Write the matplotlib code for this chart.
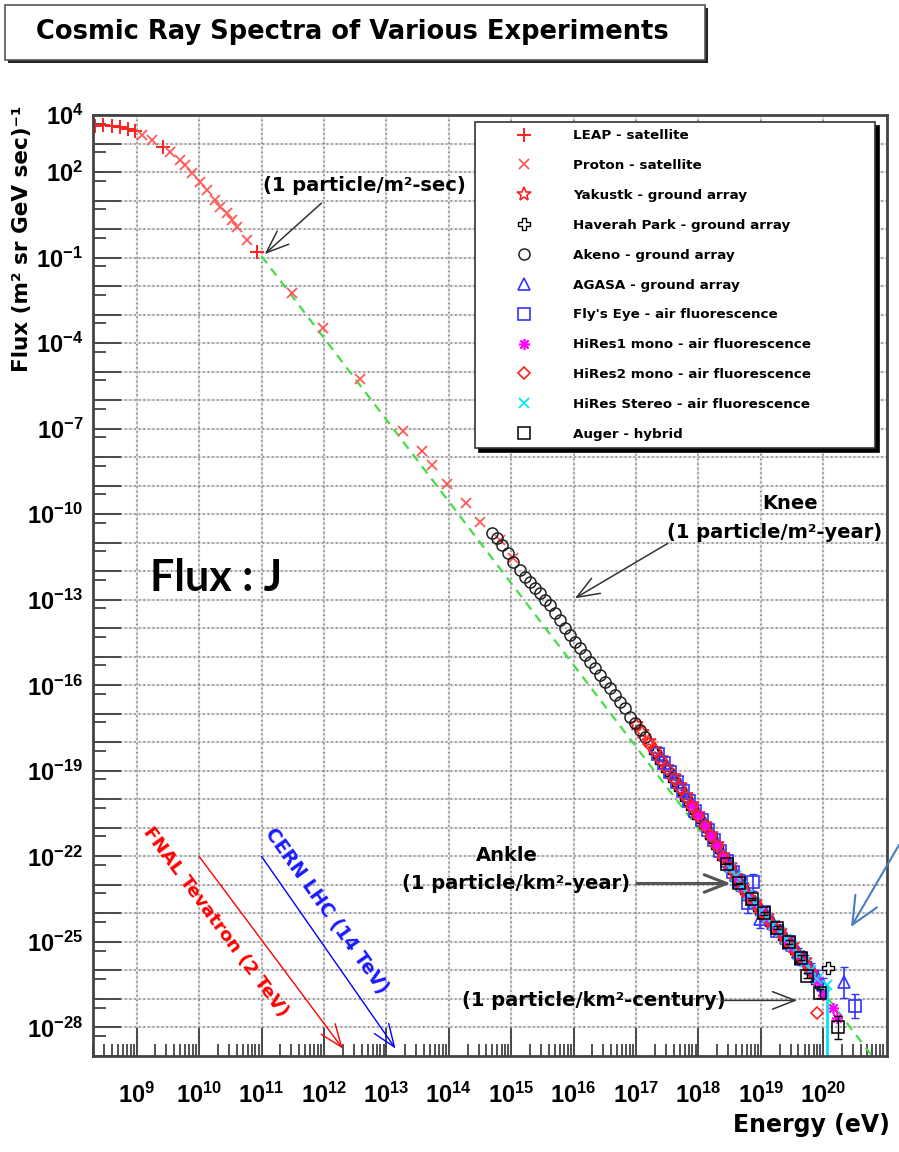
import numpy as np
import matplotlib.pyplot as plt
from matplotlib.patches import Rectangle
from matplotlib.ticker import FixedLocator, NullFormatter

plt.rcParams.update({'font.family': 'DejaVu Sans',
                     'font.weight': 'bold',
                     'mathtext.fontset': 'custom',
                     'mathtext.rm': 'Liberation Sans:bold',
                     'mathtext.it': 'Liberation Sans:bold',
                     'mathtext.bf': 'Liberation Sans:bold',
                     })

# all values are log10(E / eV) and log10(J / (m^2 sr GeV sec)^-1)
leap_logE = [8.33, 8.46, 8.60, 8.73, 8.86, 8.97, 9.42, 10.92]
leap_logJ = [3.61, 3.65, 3.61, 3.58, 3.51, 3.44, 2.88, -0.81]

proton_logE = [9.08, 9.24, 9.53, 9.69, 9.77, 9.88, 10.01, 10.12, 10.25, 10.33, 10.44, 10.52,
               10.60, 10.76, 11.48, 11.98, 12.57, 13.26, 13.57, 13.73, 13.97, 14.27, 14.50,
               14.82, 15.03]
proton_logJ = [3.30, 3.12, 2.70, 2.42, 2.25, 1.96, 1.65, 1.37, 1.02, 0.77, 0.56, 0.32,
               0.07, -0.39, -2.25, -3.47, -5.26, -7.09, -7.79, -8.28, -8.95, -9.61, -10.28,
               -10.91, -11.54]

yakutsk_logE = [17.0, 17.1, 17.2, 17.3, 17.4, 17.5, 17.6, 17.7, 17.8, 17.9, 18.0, 18.1, 18.2,
                18.3, 18.4, 18.5, 18.6, 18.7, 18.8, 18.9, 19.0, 19.1, 19.2, 19.3, 19.4, 19.5,
                19.6, 19.7]
yakutsk_logJ = [-17.35, -17.65, -17.95, -18.22, -18.55, -18.85, -19.18, -19.5, -19.85, -20.15,
                -20.5, -20.85, -21.2, -21.55, -21.95, -22.3, -22.7, -23.0, -23.3, -23.6, -23.85,
                -24.1, -24.35, -24.6, -24.9, -25.12, -25.4, -25.65]

haverah_logE = [17.3, 17.4, 17.5, 17.6, 17.7, 17.8, 17.9, 18.0, 18.1, 18.2, 18.3, 18.4, 18.5,
                18.6, 18.7, 18.8, 18.9, 19.0, 19.1, 19.2, 19.3, 19.4, 19.5, 19.6, 19.7, 19.8,
                19.9, 20.07]
haverah_logJ = [-18.35, -18.68, -18.97, -19.32, -19.62, -19.97, -20.3, -20.62, -20.95, -21.32,
                -21.68, -22.05, -22.42, -22.8, -23.12, -23.45, -23.7, -23.98, -24.22, -24.48,
                -24.72, -24.98, -25.22, -25.5, -25.75, -26.05, -26.42, -25.93]

akeno_logE = [14.69, 14.77, 14.85, 14.95, 15.03, 15.14, 15.22, 15.30, 15.38, 15.46, 15.54,
              15.62, 15.70, 15.78, 15.86, 15.94, 16.02, 16.10, 16.18, 16.26, 16.34, 16.42,
              16.50, 16.58, 16.66, 16.74, 16.82, 16.90, 16.98, 17.06, 17.14]
akeno_logJ = [-10.67, -10.84, -11.09, -11.37, -11.68, -11.96, -12.21, -12.39, -12.60, -12.77,
              -13.02, -13.19, -13.47, -13.72, -14.00, -14.25, -14.49, -14.70, -14.95, -15.19,
              -15.40, -15.65, -15.89, -16.11, -16.35, -16.60, -16.81, -17.12, -17.33, -17.58,
              -17.82]

agasa_logE = [18.5, 18.6, 18.7, 18.8, 18.9, 18.98, 19.1, 19.2, 19.3, 19.4, 19.5, 19.6, 19.7,
              19.8, 19.9, 20.0, 20.33]
agasa_logJ = [-22.3, -22.65, -23.0, -23.3, -23.6, -24.2, -24.1, -24.35, -24.6, -24.85, -25.1,
              -25.35, -25.6, -25.9, -26.2, -26.5, -26.42]
agasa_dex = [0.04, 0.04, 0.05, 0.05, 0.06, 0.3, 0.07, 0.08, 0.09, 0.1, 0.11, 0.12, 0.14,
             0.16, 0.2, 0.25, 0.55]

flyseye_logE = [17.35, 17.45, 17.55, 17.65, 17.75, 17.85, 17.95, 18.05, 18.15, 18.25, 18.35,
                18.45, 18.55, 18.65, 18.79, 18.87, 19.05, 19.25, 19.45, 19.65, 20.5]
flyseye_logJ = [-18.42, -18.72, -19.05, -19.38, -19.72, -20.05, -20.4, -20.72, -21.08, -21.42,
                -21.8, -22.15, -22.55, -22.88, -23.65, -22.9, -23.95, -24.6, -25.05, -25.6,
                -27.23]
flyseye_dex = [0.04, 0.05, 0.05, 0.05, 0.05, 0.05, 0.06, 0.06, 0.06, 0.06, 0.07, 0.07, 0.08,
               0.08, 0.35, 0.3, 0.1, 0.12, 0.15, 0.2, 0.42]

hires1_logE = [17.9, 18.0, 18.1, 18.2, 18.3, 18.4, 18.5, 18.6, 18.7, 18.8, 18.9, 19.0, 19.1,
               19.2, 19.3, 19.4, 19.5, 19.6, 19.7, 19.8, 19.9, 20.0, 20.15, 20.22]
hires1_logJ = [-20.2, -20.55, -20.92, -21.27, -21.6, -22.02, -22.35, -22.75, -23.1, -23.4,
               -23.65, -23.95, -24.2, -24.45, -24.7, -24.95, -25.2, -25.45, -25.72, -26.02,
               -26.38, -26.85, -27.3, -27.65]

hires2_logE = [17.2, 17.3, 17.4, 17.5, 17.6, 17.7, 17.8, 17.9, 18.0, 18.1, 18.2, 18.3, 18.4,
               18.5, 18.6, 18.7, 18.8, 18.9, 19.0, 19.1, 19.2, 19.3, 19.4, 19.5, 19.6, 19.7,
               19.8, 19.9]
hires2_logJ = [-18.05, -18.32, -18.63, -18.95, -19.28, -19.6, -19.92, -20.27, -20.6, -20.93,
               -21.28, -21.65, -22.03, -22.4, -22.77, -23.1, -23.4, -23.68, -23.95, -24.2,
               -24.45, -24.7, -24.95, -25.2, -25.47, -25.75, -26.05, -27.5]

stereo_logE = [18.5, 18.6, 18.7, 18.8, 18.9, 19.0, 19.1, 19.2, 19.3, 19.4, 19.5, 19.6, 19.7,
               19.8, 19.9, 20.06]
stereo_logJ = [-22.4, -22.7, -23.05, -23.35, -23.62, -23.9, -24.15, -24.4, -24.65, -24.9,
               -25.15, -25.45, -25.72, -26.0, -26.3, -26.5]

auger_logE = [18.45, 18.65, 18.85, 19.05, 19.25, 19.45, 19.65, 19.74, 19.95, 20.23]
auger_logJ = [-22.25, -22.95, -23.5, -24.0, -24.5, -25.0, -25.55, -26.18, -26.8, -28.0]
auger_dex = [0.03, 0.03, 0.04, 0.04, 0.05, 0.06, 0.08, 0.1, 0.15, 0.4]

# reference power law drawn through the low energy data
ref_logE = [11.0, 20.78]
ref_logJ = [-0.95, -29.0]

x_label_exps = list(range(9, 21))
y_label_exps = [4, 2, -1, -4, -7, -10, -13, -16, -19, -22, -25, -28]

RED = '#ff2020'
BLUE = '#3333ff'


def tev(v):
    return np.power(10.0, v)


def log_err(logJ, dex):
    j = tev(np.array(logJ))
    d = np.array(dex)
    return [j - j * 10 ** (-d), j * 10 ** d - j]


fig = plt.figure(figsize=(8.99, 11.52), dpi=100)
ax = fig.add_axes([93 / 899, 96 / 1152, 794 / 899, 941 / 1152])
ax.set_xscale('log')
ax.set_yscale('log')
ax.set_xlim(10 ** 8.3, 10 ** 21.02)
ax.set_ylim(1e-29, 1e4)

ax.plot(tev(ref_logE), tev(ref_logJ), color='#44dd44', lw=1.6, ls=(0, (4, 3)), zorder=2)

h = []
h += ax.plot(tev(leap_logE), tev(leap_logJ), '+', color=RED, ms=10, mew=1.4,
             label='LEAP - satellite')
h += ax.plot(tev(proton_logE), tev(proton_logJ), 'x', color='#ff5a5a', ms=7, mew=1.3,
             label='Proton - satellite')
h += ax.plot(tev(yakutsk_logE), tev(yakutsk_logJ), '*', color=RED, mfc='none', ms=10, mew=1.2,
             label='Yakustk - ground array')
h += ax.plot(tev(haverah_logE), tev(haverah_logJ), 'P', color='black', mfc='none', ms=9, mew=1.0,
             label='Haverah Park - ground array')
h += ax.plot(tev(akeno_logE), tev(akeno_logJ), 'o', color='#222222', mfc='none', ms=8, mew=1.1,
             label='Akeno - ground array')
ax.errorbar(tev(agasa_logE), tev(agasa_logJ), yerr=log_err(agasa_logJ, agasa_dex), fmt='none',
            ecolor=BLUE, elinewidth=1.2, capsize=3)
h += ax.plot(tev(agasa_logE), tev(agasa_logJ), '^', color=BLUE, mfc='none', ms=8, mew=1.2,
             label='AGASA - ground array')
ax.errorbar(tev(flyseye_logE), tev(flyseye_logJ), yerr=log_err(flyseye_logJ, flyseye_dex),
            fmt='none', ecolor=BLUE, elinewidth=1.2, capsize=3)
h += ax.plot(tev(flyseye_logE), tev(flyseye_logJ), 's', color=BLUE, mfc='none', ms=8, mew=1.2,
             label="Fly's Eye - air fluorescence")
h += ax.plot(tev(hires1_logE), tev(hires1_logJ), marker=(8, 2, 0), ls='none', color='#ff00ff',
             ms=8, mew=1.2, label='HiRes1 mono - air fluorescence')
h += ax.plot(tev(hires2_logE), tev(hires2_logJ), 'D', color=RED, mfc='none', ms=6, mew=1.2,
             label='HiRes2 mono - air fluorescence')
ax.errorbar(tev(stereo_logE[-1:]), tev(stereo_logJ[-1:]),
            yerr=[[tev(stereo_logJ[-1]) * 0.999999], [0.0]], fmt='none', ecolor='#00e5ff',
            elinewidth=2.0)
h += ax.plot(tev(stereo_logE), tev(stereo_logJ), 'x', color='#00e5ff', ms=7, mew=1.3,
             label='HiRes Stereo - air fluorescence')
ax.errorbar(tev(auger_logE), tev(auger_logJ), yerr=log_err(auger_logJ, auger_dex), fmt='none',
            ecolor='black', elinewidth=1.0, capsize=3)
h += ax.plot(tev(auger_logE), tev(auger_logJ), 's', color='black', mfc='none', ms=8, mew=1.1,
             label='Auger - hybrid')

# axes, ticks and grid in the ROOT look
ax.set_xticks(tev(x_label_exps))
ax.set_xticklabels([f'$10^{{{k}}}$' for k in x_label_exps])
ax.xaxis.set_minor_locator(FixedLocator([m * 10.0 ** k for k in range(8, 21) for m in range(2, 10)]))
ax.xaxis.set_minor_formatter(NullFormatter())
y_major = list(range(-29, 5))
ax.set_yticks(tev(y_major))
ax.set_yticklabels([f'$10^{{{k}}}$' if k in y_label_exps else '' for k in y_major])
ax.yaxis.set_minor_locator(FixedLocator([5 * 10.0 ** k for k in range(-29, 4)]))
ax.yaxis.set_minor_formatter(NullFormatter())
ax.tick_params(which='both', direction='in', color='#333333', width=1.2)
ax.tick_params(which='major', length=20, labelsize=17)
ax.tick_params(which='minor', length=9)
ax.tick_params(axis='x', which='major', pad=19)
ax.tick_params(axis='y', which='major', pad=7)
for s in ax.spines.values():
    s.set_linewidth(2.0)
    s.set_color('#444444')

ax.set_axisbelow(True)
for k in range(9, 21):
    ax.axvline(10.0 ** k, color='#e2e2e2', lw=1.6, zorder=0)
for k in range(-28, 4):
    ax.axhline(10.0 ** k, color='#e2e2e2', lw=1.6, zorder=0)
ax.grid(True, which='major', color='#808080', ls=(0, (1, 2)), lw=1.1)

# labelled features of the spectrum
arrow_kw = dict(arrowstyle='->,head_length=0.9,head_width=0.35', color='#333333', lw=1.1,
                mutation_scale=18, shrinkA=0, shrinkB=0)
note = dict(fontsize=14, ha='center', va='center')
ax.text(tev(12.65), tev(1.54), '(1 particle/m²-sec)', **note)
ax.annotate('', xy=(tev(11.05), tev(-0.88)), xytext=(tev(11.96), tev(0.91)), arrowprops=arrow_kw)

ax.text(tev(19.46), tev(-9.61), 'Knee', **note)
ax.text(tev(19.22), tev(-10.63), '(1 particle/m²-year)', **note)
ax.annotate('', xy=(tev(16.02), tev(-12.95)), xytext=(tev(17.51), tev(-11.02)), arrowprops=arrow_kw)

ax.text(tev(14.93), tev(-21.96), 'Ankle', **note)
ax.text(tev(15.07), tev(-22.95), '(1 particle/km²-year)', **note)
ax.annotate('', xy=(tev(18.52), tev(-22.95)), xytext=(tev(17.01), tev(-22.95)),
            arrowprops=dict(arrow_kw, color='#555555', lw=2.2))

ax.text(tev(16.33), tev(-27.05), '(1 particle/km²-century)', **note)
ax.annotate('', xy=(tev(19.58), tev(-27.05)), xytext=(tev(18.36), tev(-27.05)), arrowprops=arrow_kw)

# accelerator energies
ax.annotate('', xy=(2e12, tev(-28.74)), xytext=(1e10, 1e-22),
            arrowprops=dict(arrowstyle='->,head_length=0.9,head_width=0.35', color='red', lw=1.0,
                            mutation_scale=18, shrinkA=0, shrinkB=0))
ax.text(tev(10.27), tev(-24.3), 'FNAL Tevatron (2 TeV)', color='red', fontsize=13.3,
        rotation=-53.5, ha='center', va='center', rotation_mode='anchor')
ax.annotate('', xy=(1.4e13, tev(-28.74)), xytext=(1e11, 1e-22),
            arrowprops=dict(arrowstyle='->,head_length=0.9,head_width=0.35', color='blue', lw=1.0,
                            mutation_scale=18, shrinkA=0, shrinkB=0))
ax.text(tev(12.04), tev(-23.9), 'CERN LHC (14 TeV)', color='#1a1aff', fontsize=13.5,
        rotation=-54.5, ha='center', va='center', rotation_mode='anchor')

leg = ax.legend(handles=h, loc='upper left', bbox_to_anchor=(0.4811, 0.6, 0.5038, 0.3926),
                mode='expand', borderaxespad=0, fontsize=9.7, numpoints=1, fancybox=False,
                framealpha=1, edgecolor='#333333', borderpad=0.55, handlelength=6.2,
                handletextpad=0.5, labelspacing=1.25,
                shadow={'ox': 3, 'oy': -3, 'facecolor': 'black', 'edgecolor': 'black', 'alpha': 1})
leg.get_frame().set_linewidth(1.2)

# title box with shadow
fig.add_artist(Rectangle((8 / 899, 1 - 63 / 1152), 700 / 899, 55 / 1152, transform=fig.transFigure,
                         facecolor='#222222', edgecolor='none'))
fig.add_artist(Rectangle((5 / 899, 1 - 60 / 1152), 700 / 899, 55 / 1152, transform=fig.transFigure,
                         facecolor='white', edgecolor='#555555', lw=1.2))
fig.text(352 / 899, 1 - 32 / 1152, 'Cosmic Ray Spectra of Various Experiments', fontsize=18.5,
         ha='center', va='center')

fig.text(22 / 899, 1 - 106 / 1152, 'Flux (m² sr GeV sec)⁻¹', fontsize=15.5, rotation=90,
         ha='center', va='top')
fig.text(890 / 899, 1 - 1125 / 1152, 'Energy (eV)', fontsize=17, ha='right', va='center')

fig.text(150 / 899, 1 - 578 / 1152, 'Flux : J', fontsize=31, family='Lato', weight='bold',
         ha='left', va='center')

ax.annotate('', xy=(851, 1152 - 927), xytext=(899, 1152 - 845), xycoords='figure pixels',
            textcoords='figure pixels', annotation_clip=False,
            arrowprops=dict(arrowstyle='->,head_length=1.1,head_width=0.5', color='#4a7ebb', lw=1.5,
                            mutation_scale=18, shrinkA=0, shrinkB=0))

fig.savefig('out.png', dpi=100)
